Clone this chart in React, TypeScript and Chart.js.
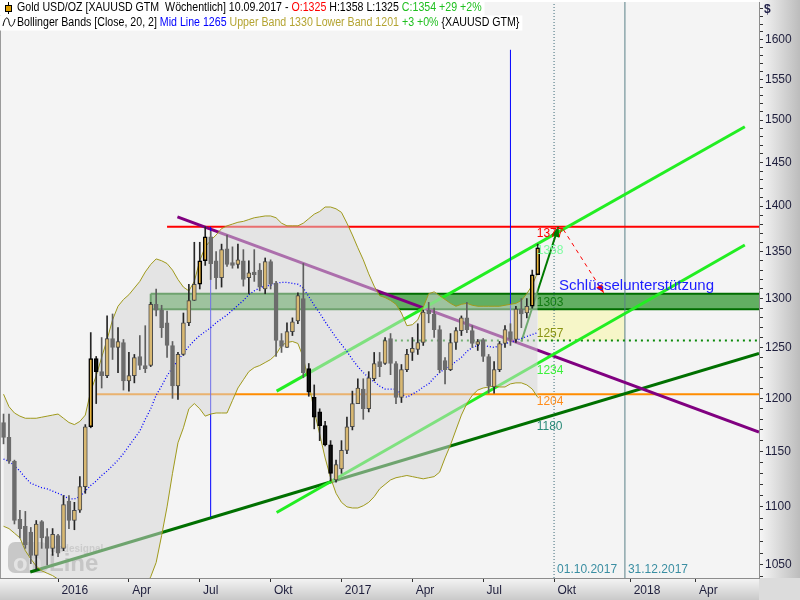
import React, { useEffect, useRef } from 'react';
import { Chart, registerables } from 'chart.js';
Chart.register(...registerables);

const FONT = '"Liberation Sans", Arial, sans-serif';

// Weekly bars: index 0 = week ending 25.10.2015 ... index 98 = week ending 10.09.2017
const opens = [1177,1163,1141,1089,1083,1078,1058,1087,1074,1064,1075,1064,1105,1088,1097,1118,1173,1239,1226,1222,1259,1250,1255,1217,1222,1241,1232,1232,1294,1288,1275,1252,1212,1243,1275,1298,1315,1340,1366,1340,1322,1353,1338,1336,1340,1322,1328,1330,1310,1339,1316,1257,1250,1266,1277,1300,1229,1201,1187,1174,1156,1124,1134,1151,1173,1195,1209,1190,1219,1236,1234,1259,1234,1201,1228,1245,1248,1255,1288,1284,1268,1237,1228,1255,1267,1280,1267,1253,1258,1241,1211,1228,1254,1266,1258,1289,1285,1292,1325];
const highs = [1185,1185,1142,1097,1096,1082,1088,1088,1081,1081,1076,1110,1110,1104,1127,1175,1265,1241,1260,1282,1284,1270,1258,1245,1243,1262,1272,1296,1310,1293,1287,1256,1245,1285,1315,1360,1360,1377,1372,1350,1358,1368,1355,1358,1352,1340,1352,1337,1343,1341,1318,1264,1275,1280,1306,1337,1234,1213,1190,1178,1160,1142,1160,1182,1207,1219,1219,1226,1245,1245,1260,1264,1236,1233,1248,1260,1274,1288,1296,1290,1272,1240,1264,1270,1282,1296,1272,1258,1259,1243,1236,1256,1272,1274,1292,1300,1300,1330,1358];
const lows = [1157,1139,1085,1073,1064,1051,1046,1064,1050,1058,1057,1062,1081,1080,1095,1112,1172,1195,1210,1220,1238,1225,1208,1207,1215,1228,1225,1231,1282,1260,1240,1200,1199,1242,1272,1298,1310,1335,1320,1310,1312,1334,1332,1332,1313,1305,1318,1308,1305,1310,1241,1245,1250,1262,1274,1220,1202,1171,1160,1155,1123,1122,1130,1148,1170,1195,1180,1187,1217,1221,1233,1223,1195,1196,1226,1237,1243,1252,1275,1260,1225,1214,1227,1248,1262,1265,1250,1247,1236,1205,1205,1226,1250,1252,1255,1270,1280,1290,1325];
const closes = [1163,1141,1088,1081,1067,1058,1085,1073,1064,1076,1060,1102,1088,1097,1118,1173,1239,1226,1222,1259,1250,1256,1217,1222,1240,1232,1229,1294,1288,1270,1252,1212,1243,1275,1298,1315,1340,1366,1337,1322,1352,1336,1335,1341,1320,1327,1325,1312,1339,1315,1257,1251,1266,1276,1303,1225,1206,1182,1174,1156,1130,1138,1151,1173,1195,1210,1190,1220,1234,1231,1257,1234,1201,1228,1243,1249,1255,1286,1284,1268,1228,1228,1255,1267,1280,1268,1254,1256,1241,1212,1228,1254,1268,1258,1289,1284,1292,1325,1354];
// bars whose body is highlighted (close outside the Bollinger band)
const highlighted = [16,17,36,37,56,57,58,59,60,97,98];

// Bollinger Bands [Close, 20, 2]
const bbUpper = [1204,1192,1186,1183,1181,1181,1181,1182,1183,1184,1185,1181,1177,1175,1178,1184,1207,1222,1240,1258,1278,1292,1299,1304,1311,1318,1328,1336,1342,1340,1337,1330,1320,1312,1308,1318,1340,1355,1362,1368,1375,1378,1380,1382,1383,1385,1387,1388,1389,1389,1387,1381,1378,1378,1378,1381,1386,1391,1394,1399,1399,1397,1393,1381,1368,1354,1341,1326,1313,1303,1301,1298,1294,1285,1272,1273,1278,1291,1305,1307,1303,1299,1295,1292,1294,1295,1293,1292,1292,1292,1292,1292,1293,1294,1295,1298,1305,1314,1328];
const bbMid = [1143,1141,1137,1132,1126,1121,1119,1117,1116,1114,1112,1110,1107,1107,1109,1114,1119,1123,1128,1132,1137,1142,1148,1155,1162,1169,1180,1190,1203,1212,1222,1230,1237,1244,1251,1257,1262,1266,1270,1275,1279,1283,1288,1293,1298,1304,1308,1311,1313,1314,1316,1317,1317,1316,1315,1311,1302,1293,1285,1276,1268,1260,1253,1246,1238,1231,1225,1220,1216,1212,1209,1209,1209,1204,1201,1204,1207,1211,1214,1220,1225,1229,1232,1236,1240,1246,1250,1252,1252,1251,1250,1252,1254,1255,1257,1259,1261,1263,1265];
const bbLower = [1083,1081,1077,1073,1062,1055,1049,1045,1043,1041,1038,1036,1034,1034,1034,1030,1025,1018,1012,1006,1000,998,1000,1008,1016,1024,1032,1040,1052,1075,1100,1130,1158,1172,1190,1195,1190,1183,1185,1186,1186,1186,1198,1210,1218,1226,1230,1232,1235,1238,1243,1252,1255,1256,1254,1240,1215,1188,1166,1144,1126,1112,1104,1100,1099,1099,1101,1104,1109,1116,1120,1124,1126,1127,1128,1127,1126,1125,1126,1127,1131,1144,1156,1170,1184,1195,1203,1208,1210,1211,1212,1211,1211,1214,1215,1215,1213,1209,1201];

// axis
const X_MIN = -0.65;
const X_MAX = 138.6;
const Y_MIN = 1039;
const Y_MAX = 1649;
const xTickBars = [10, 23, 36, 49, 62, 75, 88, 101, 115, 127];
const xTickLabels = ['2016', 'Apr', 'Jul', 'Okt', '2017', 'Apr', 'Jul', 'Okt', '2018', 'Apr'];
const yMajorTicks = [1050, 1100, 1150, 1200, 1250, 1300, 1350, 1400, 1450, 1500, 1550, 1600];

// drawings (bar index, price)
const resistanceStart = 30; const resistanceLevel = 1377;
const orangeStart = 17; const orangeLevel = 1204;
const zoneStart = 27; const zoneTop = 1305; const zoneBottom = 1289;
const yellowX = [98, 114]; const yellowTop = 1289; const yellowBottom = 1257;
const dottedStart = 69.6; const dottedLevel = 1257;
const purpleX = [31.9, 138.6]; const purpleY = [1388, 1168];
const supportX = [4.9, 138.6]; const supportY = [1044, 1244];
const channelUpX = [50.1, 136]; const channelUpY = [1207, 1492];
const channelLowX = [50.1, 136]; const channelLowY = [1095, 1357];
const arrowUpX = [95, 101.8]; const arrowUpY = [1256, 1377];
const arrowDownX = [102.7, 110.1]; const arrowDownY = [1374, 1306];
const blueLine1X = 38; const blueLine1Y = [1091, 1377];
const blueLine2X = 93; const blueLine2Y = [1253, 1587];
const dateLineBars = [101, 114];
const dateLineLabels = ['01.10.2017', '31.12.2017'];

const levelLabels = ['1377', '1358', '1303', '1257', '1234', '1204', '1180'];
const levelPrices = [1377, 1358, 1303, 1257, 1234, 1204, 1180];
const levelColors = ['#ff0000', '#7dfca0', '#117a11', '#8a9414', '#3cf03c', '#ff8c1a', '#2a8a78'];
const levelAbove = [false, false, false, true, false, false, false];
const labelBar = 98;
const noteText = 'Schlüsselunterstützung';
const noteBar = 101.9; const notePrice = 1313;

const legend1: [string, string][] = [
  ['Gold USD/OZ [XAUUSD GTM  Wöchentlich] 10.09.2017 - ', '#000000'],
  ['O:1325', '#ff0000'],
  [' H:1358 L:1325 ', '#000000'],
  ['C:1354 +29 +2%', '#1fbf1f'],
];
const legend2: [string, string][] = [
  ['Bollinger Bands [Close, 20, 2] ', '#000000'],
  ['Mid Line 1265', '#0000ff'],
  [' Upper Band 1330 Lower Band 1201', '#b4a432'],
  [' +3 +0%', '#1fbf1f'],
  [' {XAUUSD GTM}', '#000000'],
];

const UP_FILL = '#d8b872';
const DOWN_FILL = '#6c6c6c';

export default function App() {
  const ref = useRef<HTMLCanvasElement>(null);

  useEffect(() => {
    document.body.style.margin = '0';
    const canvas = ref.current!;
    const idx = opens.map((_, i) => i);
    const pts = (xs: number[], ys: number[]) => xs.map((x, i) => ({ x, y: ys[i] }));
    const hline = (x0: number, p: number) => [{ x: x0, y: p }, { x: X_MAX, y: p }];
    const vline = (x: number, ys: number[]) => ys.map((y) => ({ x, y }));
    const isUp = (i: number) => closes[i] >= opens[i];
    const isHi = (i: number) => highlighted.includes(i);

    const line = (data: any[], color: string, width: number, order: number, extra: any = {}) => ({
      type: 'line' as const,
      data,
      borderColor: color,
      borderWidth: width,
      pointRadius: 0,
      pointHitRadius: 0,
      tension: 0,
      fill: false,
      order,
      ...extra,
    });

    const bgPlugin = {
      id: 'bg',
      beforeDraw(chart: any) {
        const { ctx, chartArea: a, width, height } = chart;
        ctx.save();
        ctx.fillStyle = '#ffffff';
        ctx.fillRect(0, 0, width, height);
        ctx.fillStyle = '#f4f4f4';
        ctx.fillRect(a.left, a.top, a.right - a.left, a.bottom - a.top);
        const g = ctx.createLinearGradient(a.right, 0, width, 0);
        g.addColorStop(0, '#f7f7f7');
        g.addColorStop(1, '#bcbcbc');
        ctx.fillStyle = g;
        ctx.fillRect(a.right, 0, width - a.right, a.bottom);
        const g2 = ctx.createLinearGradient(0, a.bottom, 0, height);
        g2.addColorStop(0, '#f5f5f5');
        g2.addColorStop(1, '#c9c9c9');
        ctx.fillStyle = g2;
        ctx.fillRect(0, a.bottom, a.right, height - a.bottom);
        ctx.fillStyle = '#dcdcdc';
        ctx.fillRect(a.right, a.bottom, width - a.right, height - a.bottom);
        ctx.strokeStyle = '#9a9a9a';
        ctx.lineWidth = 1;
        ctx.beginPath();
        ctx.moveTo(a.left + 0.5, a.top);
        ctx.lineTo(a.left + 0.5, a.bottom);
        ctx.stroke();
        ctx.restore();
      },
      beforeDatasetsDraw(chart: any) {
        const { ctx, chartArea: a } = chart;
        ctx.save();
        const x0 = a.left + 8, y0 = a.bottom - 36;
        ctx.globalAlpha = 0.55;
        ctx.fillStyle = '#a4a4a4';
        ctx.beginPath();
        (ctx as any).roundRect(x0, y0, 40, 31, 7);
        ctx.fill();
        ctx.globalAlpha = 0.75;
        ctx.font = `bold 24px ${FONT}`;
        ctx.textBaseline = 'alphabetic';
        ctx.fillStyle = '#ececec';
        ctx.fillText('on', x0 + 5, y0 + 29);
        ctx.fillStyle = '#a2a2a2';
        ctx.fillText('Line', x0 + 41, y0 + 29);
        ctx.font = `bold 10px ${FONT}`;
        ctx.fillStyle = '#b0b0b0';
        ctx.fillText('tradesignal', x0 + 42, y0 + 10);
        ctx.restore();
      },
      afterDatasetsDraw(chart: any) {
        const { ctx, chartArea: a } = chart;
        const xs = chart.scales.x, ys = chart.scales.y;
        ctx.save();
        ctx.beginPath();
        ctx.rect(a.left, a.top, a.right - a.left, a.bottom - a.top);
        ctx.clip();
        // arrow heads
        const head = (x0: number, y0: number, x1: number, y1: number, color: string, size: number) => {
          const px0 = xs.getPixelForValue(x0), py0 = ys.getPixelForValue(y0);
          const px1 = xs.getPixelForValue(x1), py1 = ys.getPixelForValue(y1);
          const ang = Math.atan2(py1 - py0, px1 - px0);
          ctx.fillStyle = color;
          ctx.beginPath();
          ctx.moveTo(px1, py1);
          ctx.lineTo(px1 - size * Math.cos(ang - 0.4), py1 - size * Math.sin(ang - 0.4));
          ctx.lineTo(px1 - size * Math.cos(ang + 0.4), py1 - size * Math.sin(ang + 0.4));
          ctx.closePath();
          ctx.fill();
        };
        head(arrowUpX[0], arrowUpY[0], arrowUpX[1], arrowUpY[1], '#007a00', 11);
        head(arrowDownX[0], arrowDownY[0], arrowDownX[1], arrowDownY[1], '#ff0000', 9);
        // level labels
        ctx.font = `12px ${FONT}`;
        ctx.textAlign = 'left';
        levelLabels.forEach((t, i) => {
          ctx.fillStyle = levelColors[i];
          ctx.textBaseline = levelAbove[i] ? 'bottom' : 'top';
          const py = ys.getPixelForValue(levelPrices[i]);
          ctx.fillText(t, xs.getPixelForValue(labelBar) - 1, levelAbove[i] ? py - 1 : py + 1);
        });
        // note
        ctx.font = `15px ${FONT}`;
        ctx.fillStyle = '#1c1cff';
        ctx.textBaseline = 'middle';
        ctx.fillText(noteText, xs.getPixelForValue(noteBar), ys.getPixelForValue(notePrice));
        // date line labels
        ctx.font = `12px ${FONT}`;
        ctx.fillStyle = '#3a8ea2';
        ctx.textBaseline = 'bottom';
        dateLineBars.forEach((b, i) => {
          ctx.fillText(dateLineLabels[i], xs.getPixelForValue(b) + 3, a.bottom - 2);
        });
        ctx.restore();
      },
      afterDraw(chart: any) {
        const { ctx, chartArea: a } = chart;
        const SX = 0.885;
        ctx.save();
        ctx.font = `12px ${FONT}`;
        ctx.textBaseline = 'middle';
        ctx.textAlign = 'left';
        const drawLine = (segs: [string, string][], y: number, top: number) => {
          let w = 0;
          segs.forEach(([t]) => (w += ctx.measureText(t).width * SX));
          ctx.fillStyle = '#ffffff';
          ctx.fillRect(0, top, 17 + w + 3, 15);
          let x = 17;
          segs.forEach(([t, c]) => {
            ctx.fillStyle = c;
            ctx.save();
            ctx.translate(x, y);
            ctx.scale(SX, 1);
            ctx.fillText(t, 0, 0);
            ctx.restore();
            x += ctx.measureText(t).width * SX;
          });
        };
        drawLine(legend1, 8, 0.5);
        drawLine(legend2, 23, 15.5);
        // icons
        ctx.strokeStyle = '#000';
        ctx.lineWidth = 1;
        ctx.beginPath();
        ctx.moveTo(8.5, 2);
        ctx.lineTo(8.5, 14);
        ctx.stroke();
        ctx.fillStyle = '#e0a000';
        ctx.fillRect(5.5, 5.5, 6, 6);
        ctx.strokeRect(5.5, 5.5, 6, 6);
        ctx.beginPath();
        ctx.moveTo(3, 26);
        ctx.bezierCurveTo(5, 16, 8, 16, 9, 22);
        ctx.bezierCurveTo(10, 28, 13, 28, 15, 19);
        ctx.stroke();
        // currency
        ctx.font = `bold 12px ${FONT}`;
        ctx.fillStyle = '#22224a';
        ctx.textBaseline = 'middle';
        ctx.fillText('$', a.right + 5, 10);
        ctx.restore();
      },
    };

    const chart = new Chart(canvas, {
      type: 'bar',
      data: {
        datasets: [
          // 0 candle bodies
          {
            type: 'bar',
            data: idx.map((i) => ({ x: i, y: [Math.min(opens[i], closes[i]), Math.max(opens[i], closes[i])] })),
            barThickness: 4,
            grouped: false,
            borderSkipped: false,
            backgroundColor: (c: any) => {
              const i = c.dataIndex;
              if (isUp(i)) return isHi(i) ? '#e7b23a' : UP_FILL;
              return isHi(i) ? '#101010' : DOWN_FILL;
            },
            borderColor: (c: any) => {
              const i = c.dataIndex;
              if (isHi(i)) return '#000000';
              return isUp(i) ? '#4a4a4a' : DOWN_FILL;
            },
            borderWidth: (c: any) => (isHi(c.dataIndex) ? 1.5 : 1),
            order: 0,
          } as any,
          // 1 wicks
          {
            type: 'bar',
            data: idx.map((i) => ({ x: i, y: [lows[i], highs[i]] })),
            barThickness: 1,
            grouped: false,
            borderWidth: 0,
            backgroundColor: (c: any) => (isUp(c.dataIndex) || isHi(c.dataIndex) ? '#262626' : '#5e5e5e'),
            order: 1,
          } as any,
          // 2 band upper
          line(pts(idx, bbUpper), '#a09a1c', 1, 5),
          // 3 band lower with fill to upper
          line(pts(idx, bbLower), '#a09a1c', 1, 6, { fill: '-1', backgroundColor: 'rgba(213,213,213,0.52)' }),
          // 4 mid line
          line(pts(idx, bbMid), '#0000ff', 1.3, 4, { borderDash: [1, 2] }),
          // zones
          line(hline(zoneStart, zoneTop), '#006c00', 2, 30, { fill: { value: zoneBottom }, backgroundColor: 'rgba(0,128,0,0.6)' }),
          line(hline(zoneStart, zoneBottom), '#006c00', 2, 29),
          line(vline(zoneStart, [zoneBottom, zoneTop]), '#006c00', 2, 29),
          line(pts(yellowX, [yellowTop, yellowTop]), 'rgba(0,0,0,0)', 0, 31, { fill: { value: yellowBottom }, backgroundColor: '#f6f6c8' }),
          // date lines
          line(vline(dateLineBars[0], [Y_MIN, Y_MAX]), '#3d6b78', 1, 28, { borderDash: [1, 2] }),
          line(vline(dateLineBars[1], [Y_MIN, Y_MAX]), '#5a8088', 1, 28),
          // horizontal levels
          line(hline(resistanceStart, resistanceLevel), '#ff0000', 2, 20),
          line(hline(orangeStart, orangeLevel), '#ff8c00', 2, 20),
          line(hline(dottedStart, dottedLevel), '#0a8a0a', 2, 20, { borderDash: [2, 4] }),
          // trend lines
          line(pts(purpleX, purpleY), '#800080', 3, 19),
          line(pts(supportX, supportY), '#007000', 3, 19),
          line(pts(channelUpX, channelUpY), '#22ee22', 3, 18),
          line(pts(channelLowX, channelLowY), '#22ee22', 3, 18),
          // vertical blue lines
          line(vline(blueLine1X, blueLine1Y), '#0000ff', 1, 17),
          line(vline(blueLine2X, blueLine2Y), '#0000ff', 1, 17),
          // arrows
          line(pts(arrowUpX, arrowUpY), '#007a00', 2, 16),
          line(pts(arrowDownX, arrowDownY), '#ff0000', 1, 16, { borderDash: [4, 4] }),
        ] as any,
      },
      options: {
        responsive: false,
        animation: false,
        events: [],
        layout: { padding: 0 },
        plugins: { legend: { display: false }, tooltip: { enabled: false } },
        scales: {
          x: {
            type: 'linear',
            min: X_MIN,
            max: X_MAX,
            offset: false,
            afterBuildTicks: (s: any) => {
              s.ticks = xTickBars.map((v) => ({ value: v }));
            },
            afterFit: (s: any) => {
              s.height = 22;
            },
            ticks: {
              autoSkip: false,
              maxRotation: 0,
              align: 'start',
              padding: 1,
              color: '#1e1e3c',
              font: { family: FONT, size: 12 },
              callback: (_v: any, i: number) => ' ' + xTickLabels[i],
            },
            grid: { drawOnChartArea: false, drawTicks: true, tickLength: 4, tickColor: '#333333', offset: false },
            border: { display: true, color: '#8c8c8c' },
          },
          y: {
            type: 'logarithmic',
            position: 'right',
            min: Y_MIN,
            max: Y_MAX,
            afterBuildTicks: (s: any) => {
              const t: any[] = [];
              for (let v = 1040; v <= 1640; v += 10) t.push({ value: v, major: yMajorTicks.includes(v) });
              s.ticks = t;
            },
            afterFit: (s: any) => {
              s.width = 41;
            },
            ticks: {
              autoSkip: false,
              padding: 2,
              color: '#1e1e3c',
              font: (c: any) =>
                c.tick && yMajorTicks.includes(c.tick.value)
                  ? { family: FONT, size: 12 }
                  : { family: FONT, size: 12, lineHeight: 0 },
              callback: (v: any) => (yMajorTicks.includes(Number(v)) ? String(v) : ''),
            },
            grid: { drawOnChartArea: false, drawTicks: true, tickLength: 4, tickColor: '#333333' },
            border: { display: true, color: '#8c8c8c' },
          },
        },
      } as any,
      plugins: [bgPlugin],
    });
    return () => chart.destroy();
  }, []);

  return <canvas ref={ref} width={800} height={600} style={{ display: 'block', width: 800, height: 600 }} />;
}
